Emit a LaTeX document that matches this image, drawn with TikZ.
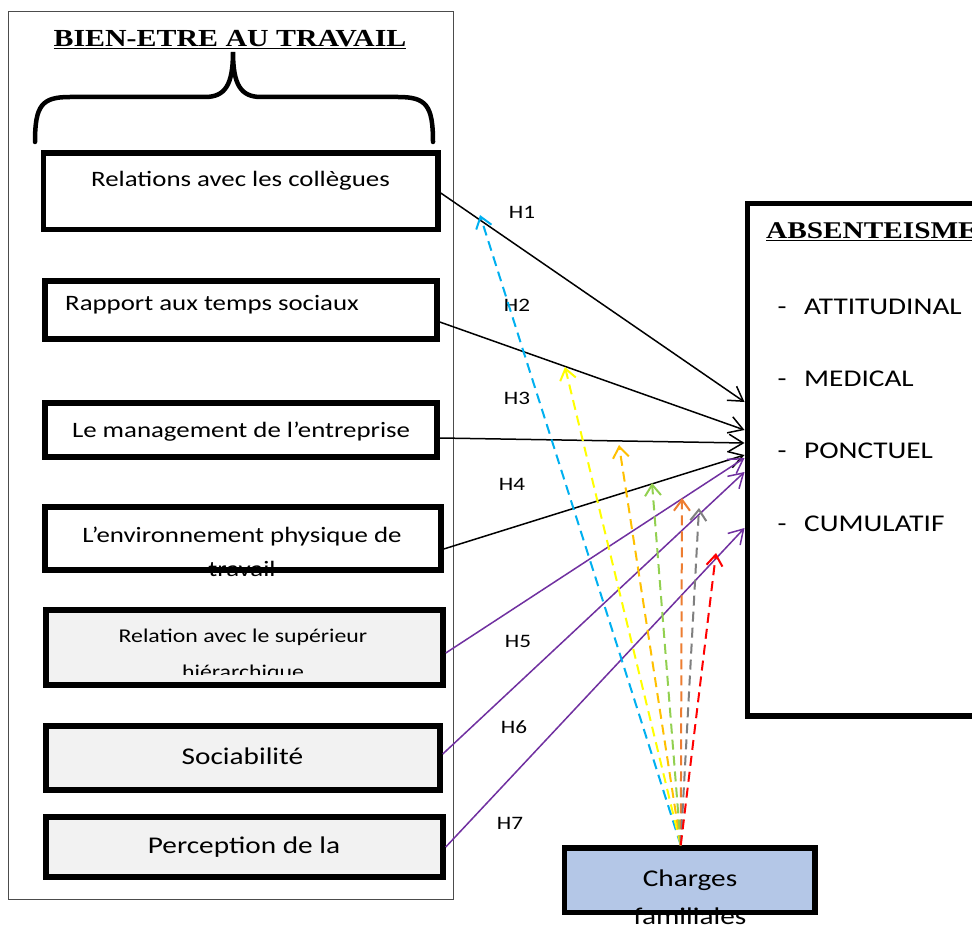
\documentclass[tikz,border=0pt]{standalone}
\usepackage{fontspec}
\setmainfont{Carlito}
\newfontfamily\timesf{Liberation Serif}
\usetikzlibrary{arrows.meta,calc}
\definecolor{ppl}{HTML}{7030A0}
\definecolor{cya}{HTML}{00B0F0}
\definecolor{yel}{HTML}{FFFF00}
\definecolor{gold}{HTML}{FFC000}
\definecolor{grn}{HTML}{92D050}
\definecolor{org}{HTML}{ED7D31}
\definecolor{gry}{HTML}{7F7F7F}
\definecolor{rd}{HTML}{FF0000}
\definecolor{boxgray}{HTML}{F2F2F2}
\definecolor{chblue}{HTML}{B4C7E7}
\newcommand{\fs}[1]{\fontsize{#1}{#1}\selectfont}
\newcommand{\hs}[1]{\scalebox{1.22}[1]{#1}}
\begin{document}
\begin{tikzpicture}[x=1pt,y=-1pt,
  bx/.style={draw=black,line width=5.5pt,inner sep=0pt,fill=white},
  gbx/.style={bx,fill=boxgray},
  lbl/.style={inner sep=0pt,font=\fs{22}},
  item/.style={inner sep=0pt,font=\fs{24}},
  hl/.style={inner sep=0pt,font=\fs{19}},
  ar/.style={line width=1.5pt,-{Straight Barb[length=14pt,width=17pt]}},
  dar/.style={line width=2pt,dash pattern=on 10pt off 6pt,-{Straight Barb[length=11pt,width=16pt]}}]
\clip (0,0) rectangle (972,928);
\fill[white] (0,0) rectangle (972,928);
% outer frame
\node[draw=black!70,line width=1pt,minimum width=445pt,minimum height=887pt,inner sep=0pt] (frame) at (230.5,455.5) {};
% title
\node[inner sep=0pt,font=\timesf\bfseries\fs{24.5}] (title) at (230,40) {\hs{\underline{BIEN-ETRE AU TRAVAIL}}};
% brace
\draw[line width=4.5pt,line cap=round] (35,142) .. controls (35,105) and (42,97) .. (70,97) -- (205,97) .. controls (225,97) and (233,85) .. (233,52)
  .. controls (233,85) and (241,97) .. (261,97) -- (398,97) .. controls (426,97) and (433,105) .. (433,142);
% left boxes
\node[bx,minimum width=394.5pt,minimum height=76.5pt] (b1) at (240.75,191.25) {};
\node[bx,minimum width=392pt,minimum height=58pt] (b2) at (241,310) {};
\node[bx,minimum width=392pt,minimum height=54pt] (b3) at (241,430) {};
\node[bx,minimum width=396pt,minimum height=63pt] (b4) at (243,538.5) {};
\node[gbx,minimum width=397pt,minimum height=75pt] (b5) at (244.5,647.5) {};
\node[gbx,minimum width=394pt,minimum height=64pt] (b6) at (243,758) {};
\node[gbx,minimum width=397pt,minimum height=60pt] (b7) at (244.5,847) {};
% right box
\node[bx,minimum width=300pt,minimum height=512pt,anchor=north west] (abs) at (744.5,201) {};
% charges
\node[bx,fill=chblue,minimum width=250.5pt,minimum height=64.5pt] (ch) at (689.75,880.25) {};
% texts
\node[lbl] (t1) at (240.5,181) {\hs{Relations avec les collègues}};
\node[lbl,anchor=west] (t2) at (65,305) {\hs{Rapport aux temps sociaux}};
\node[lbl] (t3) at (241,432) {\hs{Le management de l’entreprise}};
\node[lbl] (t4a) at (242,537) {\hs{L’environnement physique de}};
\node[lbl] (t4b) at (242,569) {\hs{travail}};
\node[lbl,font=\fs{19.5}] (t5a) at (243,637) {\hs{Relation avec le supérieur}};
\begin{scope}
\clip (50,613) rectangle (440,674);
\node[lbl,font=\fs{19.5}] (t5b) at (243,673) {\hs{hiérarchique}};
\end{scope}
\node[lbl,font=\fs{24}] (t6) at (242.5,756) {\hs{Sociabilité}};
\node[lbl,font=\fs{24}] (t7) at (244,847) {\hs{Perception de la}};
\node[inner sep=0pt,anchor=west,font=\timesf\bfseries\fs{24}] (abst) at (766,232) {\hs{\underline{ABSENTEISME}}};
\node[item,anchor=base] (d1m) at (782,314) {\hs{-}};
\node[item,anchor=base] (d2m) at (782,386) {\hs{-}};
\node[item,anchor=base] (d3m) at (782,458) {\hs{-}};
\node[item,anchor=base] (d4m) at (782,531) {\hs{-}};
\node[item,anchor=base west] (i1) at (804,314) {\hs{ATTITUDINAL}};
\node[item,anchor=base west] (i2) at (804,386) {\hs{MEDICAL}};
\node[item,anchor=base west] (i3) at (804,458) {\hs{PONCTUEL}};
\node[item,anchor=base west] (i4) at (804,531) {\hs{CUMULATIF}};
\node[lbl,font=\fs{24}] (c1) at (690,880) {\hs{Charges}};
\node[lbl,font=\fs{24}] (c2) at (690,916) {\hs{familiales}};
% H labels
\node[hl] (h1) at (522,212) {\hs{H1}};
\node[hl] (h2) at (517,305) {\hs{H2}};
\node[hl] (h3) at (517,398) {\hs{H3}};
\node[hl] (h4) at (512,484) {\hs{H4}};
\node[hl] (h5) at (518,641) {\hs{H5}};
\node[hl] (h6) at (514,727) {\hs{H6}};
\node[hl] (h7) at (510,823) {\hs{H7}};
% target coordinates
\coordinate (e1) at (abs.west |- 0,402);
\coordinate (e2) at (abs.west |- 0,430);
\coordinate (e3) at (abs.west |- 0,443);
\coordinate (e4) at (abs.west |- 0,455);
\coordinate (e5) at (abs.west |- 0,458);
\coordinate (e6) at (abs.west |- 0,472);
\coordinate (e7) at (abs.west |- 0,528);
\coordinate (s1) at (b1.east |- 0,193);
\coordinate (s2) at (b2.east |- 0,322);
\coordinate (s3) at (b3.east |- 0,438);
\coordinate (s4) at (b4.east |- 0,549);
\coordinate (s5) at (b5.east |- 0,653);
\coordinate (s6) at (b6.east |- 0,754);
\coordinate (s7) at (b7.east |- 0,847);
\draw[ar] (s1) -- (e1);
\draw[ar] (s2) -- (e2);
\draw[ar] (s3) -- (e3);
\draw[ar] (s4) -- (e4);
\draw[ar,ppl] (s5) -- (e5);
\draw[ar,ppl] (s6) -- (e6);
\draw[ar,ppl] (s7) -- (e7);
% dashed arrows
\coordinate (cs) at ([xshift=-9pt]ch.north);
\coordinate (d1) at (480,215);
\coordinate (d2) at (565,367);
\coordinate (d3) at (619,445);
\coordinate (d4) at (652,483);
\coordinate (d5) at (682,498);
\coordinate (d6) at (699,508);
\coordinate (d7) at (716,553);
\draw[dar,cya] (cs) -- (d1);
\draw[dar,yel] (cs) -- (d2);
\draw[dar,gold] (cs) -- (d3);
\draw[dar,grn] (cs) -- (d4);
\draw[dar,org] (cs) -- (d5);
\draw[dar,gry] (cs) -- (d6);
\draw[dar,rd] (cs) -- (d7);
\end{tikzpicture}
\end{document}
